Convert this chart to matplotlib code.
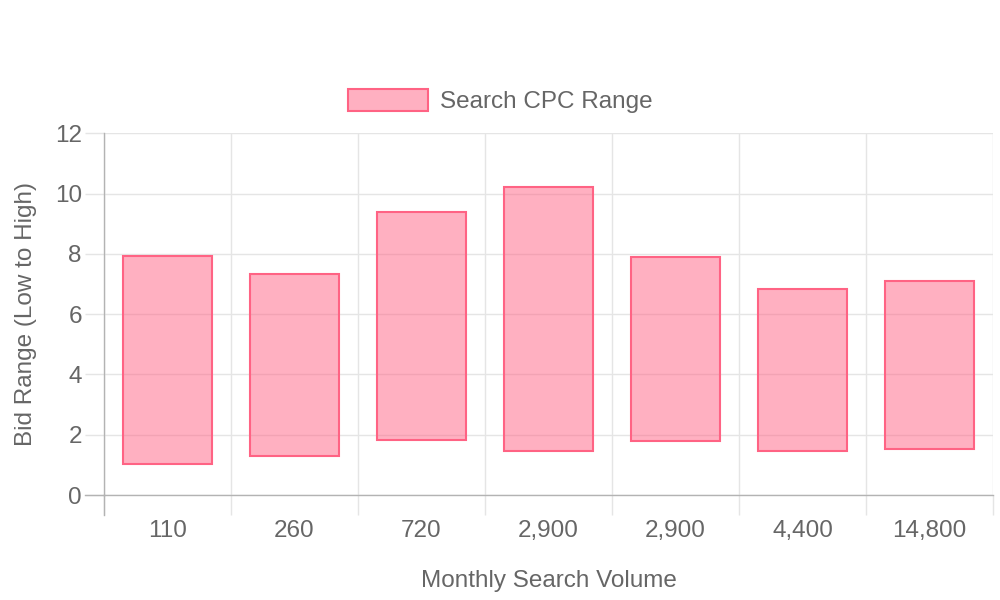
import matplotlib
matplotlib.use("Agg")
import matplotlib.pyplot as plt
import numpy as np

# Data
volumes = ["110", "260", "720", "2,900", "2,900", "4,400", "14,800"]
cpc_low = [1.02, 1.28, 1.83, 1.45, 1.78, 1.46, 1.52]
cpc_high = [7.93, 7.33, 9.40, 10.20, 7.90, 6.84, 7.10]
y_ticks = [0, 2, 4, 6, 8, 10, 12]

plt.rcParams['font.family'] = ['Liberation Sans', 'DejaVu Sans']
text_color = '#666666'
grid_color = '#e5e5e5'
axis_color = '#b3b3b3'
fill_color = (1.0, 99 / 255, 132 / 255, 0.5)
edge_color = (1.0, 99 / 255, 132 / 255)
fs = 17.5

fig = plt.figure(figsize=(10, 6), dpi=100)
ax = fig.add_axes([0.104, 0.175, 0.889, 0.603])

x = np.arange(len(volumes))
heights = np.array(cpc_high) - np.array(cpc_low)
ax.bar(x, heights, bottom=cpc_low, width=0.7, color=fill_color,
       edgecolor=edge_color, linewidth=1.5, label="Search CPC Range", zorder=3)

ax.set_xlim(-0.5, len(volumes) - 0.5)
ax.set_ylim(0, 12)

# category labels at centres, grid lines at category edges
ax.set_xticks(x)
ax.set_xticklabels(volumes)
ax.set_xticks(np.arange(-0.5, len(volumes)), minor=True)
ax.tick_params(axis='x', which='major', length=0, pad=18, labelsize=fs, labelcolor=text_color)
ax.tick_params(axis='x', which='minor', length=14.5, width=1, color=grid_color)
ax.grid(True, axis='x', which='minor', color=grid_color, linewidth=1, zorder=0)

ax.set_yticks(y_ticks)
ax.tick_params(axis='y', length=14, width=1, color=grid_color, pad=2,
               labelsize=fs, labelcolor=text_color)
ax.grid(True, axis='y', which='major', color=grid_color, linewidth=1, zorder=0)

for side in ['top', 'right']:
    ax.spines[side].set_visible(False)
for side in ['left', 'bottom']:
    ax.spines[side].set_color(axis_color)
    ax.spines[side].set_linewidth(1)

# darker extensions of the axis lines past the plot area
ax.axvline(-0.5, ymin=-20 / 362, ymax=0, clip_on=False, color=axis_color, linewidth=1)
ax.axhline(0, xmin=-19 / 889, xmax=0, clip_on=False, color=axis_color, linewidth=1)

ax.set_xlabel("Monthly Search Volume", fontsize=fs, color=text_color, labelpad=20)
ax.set_ylabel("Bid Range (Low to High)", fontsize=fs, color=text_color, labelpad=13)

fig.legend(loc='center', bbox_to_anchor=(0.5, 1 - 101 / 600), frameon=False,
           fontsize=fs, labelcolor=text_color, handlelength=3.3, handleheight=1.0,
           handletextpad=0.5)

fig.savefig("out.png", dpi=100)
